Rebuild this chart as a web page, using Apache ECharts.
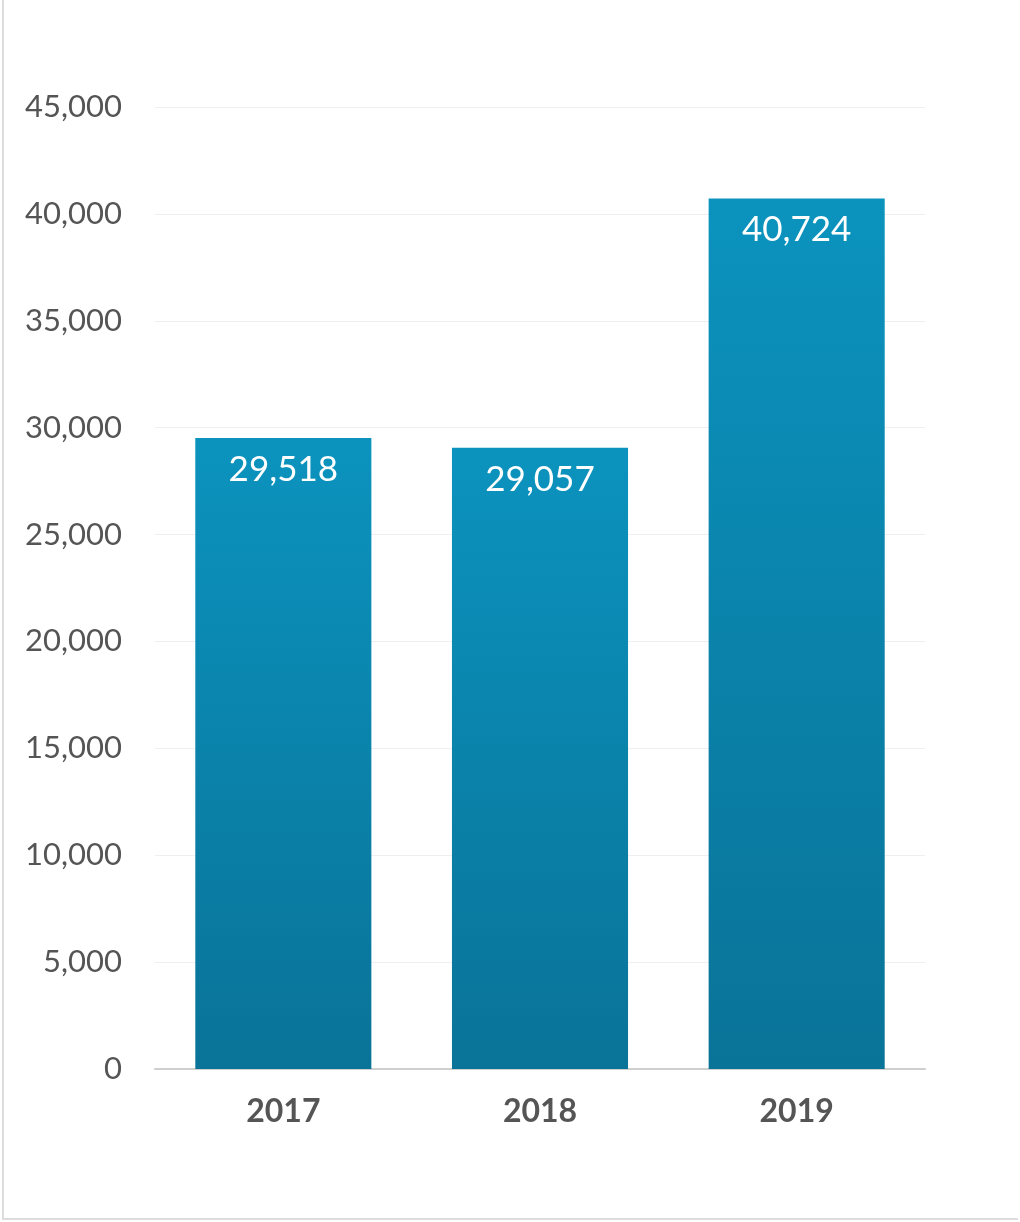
<!DOCTYPE html>
<html>
<head>
<meta charset="utf-8">
<script src="https://cdn.jsdelivr.net/npm/echarts@6/dist/echarts.min.js"></script>
<style>
html,body{margin:0;padding:0;background:#fff;}
#frame{position:absolute;left:2px;top:0;width:1016px;height:1220px;border-left:2px solid #ddd;border-bottom:2px solid #ddd;box-sizing:border-box;}
#chart{position:absolute;left:0;top:0;width:1020px;height:1222px;}
</style>
</head>
<body>
<div id="frame"></div>
<div id="chart"></div>
<script>
const categories = ['2017', '2018', '2019'];
const values = [29518, 29057, 40724];
const yTicks = { min: 0, max: 45000, interval: 5000 };

const chart = echarts.init(document.getElementById('chart'), null, { renderer: 'canvas' });
chart.setOption({
  animation: false,
  backgroundColor: 'transparent',
  grid: { left: 155, right: 95, top: 107, bottom: 153, containLabel: false },
  xAxis: {
    type: 'category',
    data: categories,
    axisLine: { lineStyle: { color: '#cfcfcf', width: 2 } },
    axisTick: { show: false },
    axisLabel: { color: '#555', fontSize: 32, fontWeight: 'bold', fontFamily: 'Lato, sans-serif', margin: 27 }
  },
  yAxis: {
    type: 'value',
    min: yTicks.min, max: yTicks.max, interval: yTicks.interval,
    axisLine: { show: false },
    axisTick: { show: false },
    splitLine: { lineStyle: { color: '#efefef', width: 1 } },
    axisLabel: {
      color: '#555', fontSize: 31, fontFamily: 'Lato, sans-serif', margin: 33,
      formatter: v => v.toLocaleString('en-US')
    }
  },
  series: [{
    type: 'bar',
    data: values,
    barWidth: '68.6%',
    itemStyle: {
      color: new echarts.graphic.LinearGradient(0, 0, 0, 1, [
        { offset: 0, color: '#0b93be' },
        { offset: 1, color: '#0a7398' }
      ])
    },
    label: {
      show: true,
      position: 'insideTop',
      distance: 14,
      color: '#fff',
      fontSize: 35,
      fontFamily: 'Lato, sans-serif',
      formatter: p => p.value.toLocaleString('en-US')
    }
  }]
});
</script>
</body>
</html>
